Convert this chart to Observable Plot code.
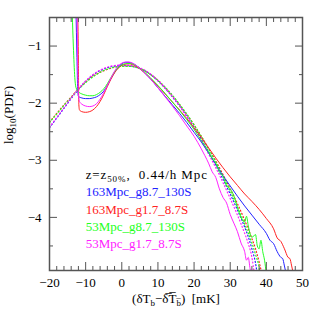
<!DOCTYPE html>
<html><head><meta charset="utf-8">
<script src="https://cdn.jsdelivr.net/npm/d3@7"></script>
<script src="https://cdn.jsdelivr.net/npm/@observablehq/plot@0.6"></script>
<style>body{margin:0;background:#fff}</style>
</head><body><div id="chart"></div>
<script>
const seriesNames = ["163Mpc_g8.7_130S", "163Mpc_g1.7_8.7S", "53Mpc_g8.7_130S", "53Mpc_g1.7_8.7S"];
const seriesColors = ["#2222ff", "#ff2222", "#22ff22", "#ff22ff"];
const headerLine = "z=z50%, 0.44/h Mpc";
const xLabelText = "(δTb−δTb) [mK]";
const yLabelText = "log10(PDF)";

const xMajor = [-20, -10, 0, 10, 20, 30, 40, 50];
const xMinor = [-18, -16, -14, -12, -8, -6, -4, -2, 2, 4, 6, 8, 12, 14, 16, 18, 22, 24, 26, 28, 32, 34, 36, 38, 42, 44, 46, 48];
const yMajor = [-4, -3, -2, -1];
const yMinor = [-4.5, -3.5, -2.5, -1.5];

// simulated PDFs (solid)
const blueSolid = [[-12.7,-0.3],[-12.4,-1.2],[-12.2,-1.75],[-12.0,-1.88],[-11,-1.91],[-10,-1.92],[-9,-1.92],[-8,-1.91],[-7,-1.89],[-6,-1.85],[-5,-1.79],[-4,-1.69],[-3,-1.57],[-2,-1.46],[-1,-1.37],[0,-1.31],[1,-1.285],[2,-1.285],[3,-1.305],[4,-1.34],[6,-1.45],[8,-1.58],[10,-1.73],[12,-1.88],[14,-2.03],[16,-2.18],[18,-2.34],[20,-2.51],[22,-2.68],[24,-2.87],[26,-3.07],[28,-3.27],[30,-3.45],[32,-3.63],[34,-3.80],[36,-3.96],[38,-4.12],[40,-4.28],[41,-4.4],[42,-4.46],[43,-4.6],[44,-4.7],[44.5,-4.72],[45,-4.85],[45.5,-5.0]];
const redSolid = [[-12.2,-0.3],[-12.0,-1.3],[-11.9,-2.0],[-11.7,-2.12],[-11,-2.15],[-10,-2.16],[-9,-2.15],[-8,-2.12],[-7,-2.06],[-6,-1.97],[-5,-1.85],[-4,-1.71],[-3,-1.58],[-2,-1.47],[-1,-1.39],[0,-1.34],[1,-1.315],[2,-1.31],[3,-1.325],[4,-1.355],[6,-1.45],[8,-1.57],[10,-1.70],[12,-1.84],[14,-1.98],[16,-2.12],[18,-2.27],[20,-2.43],[22,-2.6],[24,-2.78],[26,-2.96],[28,-3.13],[30,-3.29],[32,-3.44],[34,-3.59],[36,-3.72],[38,-3.86],[40,-4.02],[42,-4.2],[43,-4.36],[44,-4.42],[45,-4.55],[46,-4.7],[46.5,-4.72],[47,-4.85],[47.5,-5.0]];
const greenSolid = [[-13.7,-0.45],[-13.4,-1.0],[-13.0,-1.55],[-12.7,-1.72],[-12,-1.80],[-11,-1.84],[-10,-1.86],[-9,-1.87],[-8,-1.87],[-7,-1.85],[-6,-1.81],[-5,-1.75],[-4,-1.66],[-3,-1.55],[-2,-1.45],[-1,-1.38],[0,-1.33],[1,-1.31],[2,-1.305],[3,-1.315],[4,-1.345],[6,-1.44],[8,-1.56],[10,-1.69],[12,-1.83],[14,-1.98],[16,-2.13],[18,-2.29],[20,-2.46],[22,-2.65],[24,-2.85],[25,-2.97],[26,-3.05],[27,-3.2],[28,-3.28],[29,-3.45],[30,-3.5],[31,-3.62],[32,-3.82],[33,-4.0],[34,-4.08],[34.5,-3.98],[35,-4.15],[36,-4.35],[37,-4.3],[37.5,-4.5],[38,-4.55],[38.5,-4.4],[39,-4.6],[39.5,-4.75],[40,-5.0]];
const magentaSolid = [[-12.4,-0.3],[-12.2,-1.3],[-12.0,-1.85],[-11.7,-1.97],[-11,-2.02],[-10,-2.05],[-9,-2.06],[-8,-2.05],[-7,-2.01],[-6,-1.93],[-5,-1.82],[-4,-1.69],[-3,-1.56],[-2,-1.44],[-1,-1.35],[0,-1.30],[1,-1.28],[2,-1.28],[3,-1.30],[4,-1.34],[6,-1.45],[8,-1.58],[10,-1.73],[12,-1.89],[14,-2.05],[16,-2.22],[18,-2.40],[20,-2.58],[22,-2.80],[23,-2.92],[24,-3.05],[25,-3.2],[26,-3.3],[27,-3.5],[28,-3.65],[29,-3.75],[30,-3.95],[31,-4.1],[32,-4.25],[33,-4.45],[34,-4.6],[34.5,-4.75],[35,-4.7],[35.5,-4.9],[36,-5.0]];

// reference PDFs (dotted)
const blueDotted = [[-20,-2.43],[-18,-2.26],[-16,-2.09],[-14,-1.92],[-12,-1.76],[-10,-1.62],[-8,-1.51],[-6,-1.43],[-4,-1.38],[-2,-1.35],[0,-1.34],[2,-1.345],[4,-1.37],[6,-1.42],[8,-1.50],[10,-1.61],[12,-1.74],[14,-1.89],[16,-2.05],[18,-2.23],[20,-2.42],[22,-2.63],[24,-2.85],[26,-3.08],[28,-3.33],[30,-3.59],[32,-3.87],[34,-4.17],[35,-4.34],[36,-4.55],[37,-4.8],[37.5,-5.0]];
const redDotted = [[-20,-2.33],[-18,-2.18],[-16,-2.03],[-14,-1.89],[-12,-1.75],[-10,-1.63],[-8,-1.53],[-6,-1.46],[-4,-1.41],[-2,-1.37],[0,-1.355],[2,-1.35],[4,-1.37],[6,-1.42],[8,-1.50],[10,-1.60],[12,-1.73],[14,-1.87],[16,-2.03],[18,-2.20],[20,-2.38],[22,-2.58],[24,-2.79],[26,-3.01],[28,-3.25],[30,-3.50],[32,-3.76],[34,-4.05],[36,-4.37],[37,-4.55],[38,-4.78],[38.8,-5.0]];
const greenDotted = [[-20,-2.34],[-18,-2.19],[-16,-2.04],[-14,-1.90],[-12,-1.76],[-10,-1.64],[-8,-1.54],[-6,-1.46],[-4,-1.40],[-2,-1.37],[0,-1.355],[2,-1.355],[4,-1.375],[6,-1.42],[8,-1.50],[10,-1.60],[12,-1.72],[14,-1.86],[16,-2.02],[18,-2.19],[20,-2.38],[22,-2.58],[24,-2.80],[26,-3.03],[28,-3.28],[30,-3.54],[32,-3.82],[34,-4.12],[36,-4.45],[37,-4.65],[38,-4.88],[38.3,-5.0]];
const magentaDotted = [[-20,-2.42],[-18,-2.25],[-16,-2.08],[-14,-1.91],[-12,-1.75],[-10,-1.61],[-8,-1.50],[-6,-1.42],[-4,-1.37],[-2,-1.34],[0,-1.33],[2,-1.335],[4,-1.36],[6,-1.41],[8,-1.49],[10,-1.60],[12,-1.73],[14,-1.88],[16,-2.05],[18,-2.24],[20,-2.44],[22,-2.66],[24,-2.89],[26,-3.13],[28,-3.39],[30,-3.67],[32,-3.96],[34,-4.28],[35,-4.46],[36,-4.7],[36.7,-5.0]];

const solidSets = [blueSolid, redSolid, greenSolid, magentaSolid];
const dottedSets = [blueDotted, redDotted, greenDotted, magentaDotted];
const toRows = sets => sets.flatMap((pts, i) => pts.map(([x, y]) => ({series: seriesNames[i], color: seriesColors[i], x, y})));
const solidRows = toRows(solidSets);
const dottedRows = toRows(dottedSets);

const legendRows = [{label: headerLine, color: "#000"}, ...seriesNames.map((n, i) => ({label: n, color: seriesColors[i]}))];
const fmt = d => (d < 0 ? "\u2212" : "") + Math.abs(d);
const frameColor = "#555";

const chart = Plot.plot({
  width: 319, height: 319,
  marginTop: 17, marginBottom: 49, marginLeft: 49, marginRight: 17,
  x: {domain: [-20, 50]},
  y: {domain: [-4.93, -0.5]},
  color: {type: "identity"},
  style: {fontFamily: "'Liberation Serif', serif", fontSize: "13px", color: "#000", background: "#fff"},
  marks: [
    Plot.line(dottedRows, {x: "x", y: "y", z: "series", stroke: "color", strokeWidth: 1.2, strokeDasharray: "1,2.4", clip: true, curve: "monotone-x"}),
    Plot.line(solidRows, {x: "x", y: "y", z: "series", stroke: "color", strokeWidth: 1, clip: true, curve: "monotone-x"}),
    Plot.frame({stroke: frameColor, strokeWidth: 1.5}),
    Plot.axisX({anchor: "bottom", ticks: xMajor, tickSize: -8, text: null, label: null, stroke: frameColor}),
    Plot.axisX({anchor: "bottom", ticks: xMinor, tickSize: -4, text: null, label: null, stroke: frameColor}),
    Plot.axisX({anchor: "top", ticks: xMajor, tickSize: -8, text: null, label: null, stroke: frameColor}),
    Plot.axisX({anchor: "top", ticks: xMinor, tickSize: -4, text: null, label: null, stroke: frameColor}),
    Plot.axisY({anchor: "left", ticks: yMajor, tickSize: -8, text: null, label: null, stroke: frameColor}),
    Plot.axisY({anchor: "left", ticks: yMinor, tickSize: -4, text: null, label: null, stroke: frameColor}),
    Plot.axisY({anchor: "right", ticks: yMajor, tickSize: -8, text: null, label: null, stroke: frameColor}),
    Plot.axisY({anchor: "right", ticks: yMinor, tickSize: -4, text: null, label: null, stroke: frameColor}),
    Plot.axisX({anchor: "bottom", ticks: xMajor, tickSize: 0, tickPadding: 7, tickFormat: fmt, label: null, fontSize: 13}),
    Plot.axisY({anchor: "left", ticks: yMajor, tickSize: 0, tickPadding: 8, tickFormat: fmt, label: null, fontSize: 13}),
    Plot.text([xLabelText], {frameAnchor: "bottom", dy: 32, text: d => d, fontSize: 13}),
    Plot.text([yLabelText], {frameAnchor: "left", dx: -41, rotate: -90, text: d => d, fontSize: 13}),
    Plot.text(legendRows, {x: () => -10, y: (d, i) => -3.26 - 0.3 * i, text: "label", fill: "color", textAnchor: "start", fontSize: 13})
  ]
});
document.getElementById("chart").appendChild(chart);

const svg = d3.select(chart);
const findText = s => svg.selectAll("text").filter(function () { return this.textContent === s; });
// x label: subscripts, and the mean bar drawn with combining overlines
{
  const t = findText(xLabelText);
  t.text("");
  t.append("tspan").text("(\u03B4T");
  t.append("tspan").attr("dy", 3).attr("font-size", 9).text("b");
  t.append("tspan").attr("dy", -3).text("\u2212\u03B4\u0305T\u0305");
  t.append("tspan").attr("dy", 3).attr("font-size", 9).text("b\u0305");
  t.append("tspan").attr("dy", -3).text(")\u00A0\u00A0[mK]");
}
// y label
{
  const t = findText(yLabelText);
  t.text("");
  t.append("tspan").text("log");
  t.append("tspan").attr("dy", 3).attr("font-size", 9).text("10");
  t.append("tspan").attr("dy", -3).text("(PDF)");
}
// legend header
{
  const t = findText(headerLine);
  t.text("").attr("letter-spacing", 0.9);
  t.append("tspan").text("z=z");
  t.append("tspan").attr("dy", 3).attr("font-size", 9).text("50%");
  t.append("tspan").attr("dy", -3).text(",\u00A0\u00A00.44/h\u00A0Mpc");
}
</script>
</body></html>
